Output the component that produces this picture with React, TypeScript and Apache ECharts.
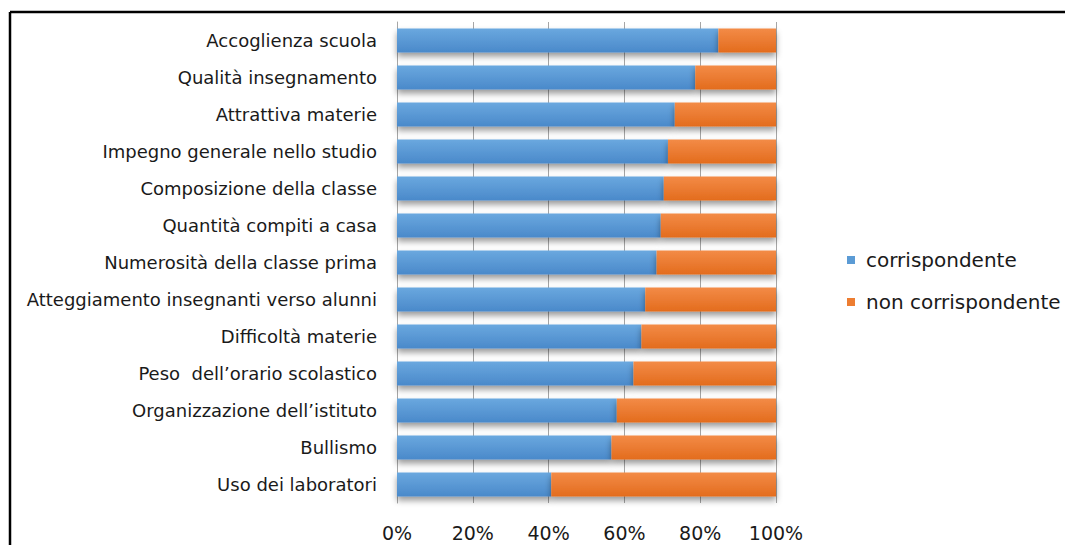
import React, { useEffect, useRef } from "react";
import * as echarts from "echarts";

const categories = [
  "Accoglienza scuola",
  "Qualità insegnamento",
  "Attrattiva materie",
  "Impegno generale nello studio",
  "Composizione della classe",
  "Quantità compiti a casa",
  "Numerosità della classe prima",
  "Atteggiamento insegnanti verso alunni",
  "Difficoltà materie",
  "Peso  dell’orario scolastico",
  "Organizzazione dell’istituto",
  "Bullismo",
  "Uso dei laboratori",
];

const corrispondente = [84.8, 78.7, 73.3, 71.5, 70.4, 69.6, 68.5, 65.5, 64.5, 62.4, 58.0, 56.6, 40.7];
const nonCorrispondente = [15.2, 21.3, 26.7, 28.5, 29.6, 30.4, 31.5, 34.5, 35.5, 37.6, 42.0, 43.4, 59.3];

const seriesNames = ["corrispondente", "non corrispondente"];
const xTicks = [0, 20, 40, 60, 80, 100];

const FONT = "'DejaVu Sans', 'Open Sans', sans-serif";

export default function App() {
  const ref = useRef<HTMLDivElement>(null);
  useEffect(() => {
    if (!ref.current) return;
    const chart = echarts.init(ref.current, null, { renderer: "svg" });
    const grad = (top: string, bottom: string) =>
      new echarts.graphic.LinearGradient(0, 0, 0, 1, [
        { offset: 0, color: top },
        { offset: 1, color: bottom },
      ]);
    const shadow = {
      shadowColor: "rgba(0,0,0,0.4)",
      shadowBlur: 6,
      shadowOffsetY: 4,
    };
    chart.setOption({
      animation: false,
      backgroundColor: "#ffffff",
      textStyle: { fontFamily: FONT },
      graphic: [
        {
          type: "line",
          shape: { x1: 10, y1: 12, x2: 1065, y2: 12 },
          style: { stroke: "#000", lineWidth: 2.5 },
          silent: true,
        },
        {
          type: "line",
          shape: { x1: 10, y1: 12, x2: 10, y2: 545 },
          style: { stroke: "#000", lineWidth: 2.5 },
          silent: true,
        },
      ],
      grid: { left: 397, right: 289, top: 22, bottom: 42, containLabel: false },
      legend: {
        orient: "vertical",
        left: 842,
        top: 245,
        itemWidth: 8,
        itemHeight: 8,
        itemGap: 22,
        icon: "rect",
        data: [
          { name: seriesNames[0], itemStyle: { color: "#5b9bd5" } },
          { name: seriesNames[1], itemStyle: { color: "#ed7d31" } },
        ],
        textStyle: { fontSize: 20, color: "#1a1a1a", fontFamily: FONT, padding: [0, 0, 0, 6] },
      },
      xAxis: {
        type: "value",
        min: 0,
        max: 100,
        interval: 20,
        axisLine: { show: false },
        axisTick: { show: false },
        splitLine: { show: true, lineStyle: { color: "#a6a6a6", width: 1 } },
        axisLabel: {
          margin: 20,
          fontSize: 19,
          color: "#1a1a1a",
          fontFamily: FONT,
          formatter: (v: number) => (xTicks.includes(v) ? v + "%" : ""),
        },
      },
      yAxis: {
        type: "category",
        data: categories,
        inverse: true,
        axisLine: { show: true, lineStyle: { color: "#a6a6a6" } },
        axisTick: { show: false },
        axisLabel: { margin: 20, fontSize: 18, color: "#1a1a1a", fontFamily: FONT },
      },
      series: [
        {
          name: seriesNames[0],
          type: "bar",
          stack: "tot",
          barWidth: "65%",
          data: corrispondente,
          itemStyle: { color: grad("#6aa8df", "#4a89ca"), ...shadow },
        },
        {
          name: seriesNames[1],
          type: "bar",
          stack: "tot",
          barWidth: "65%",
          data: nonCorrispondente,
          itemStyle: { color: grad("#f38b47", "#e36c1d"), ...shadow },
        },
      ],
    });
    return () => chart.dispose();
  }, []);
  return (
    <div
      ref={ref}
      style={{ position: "absolute", left: 0, top: 0, width: 1065, height: 545 }}
    />
  );
}
